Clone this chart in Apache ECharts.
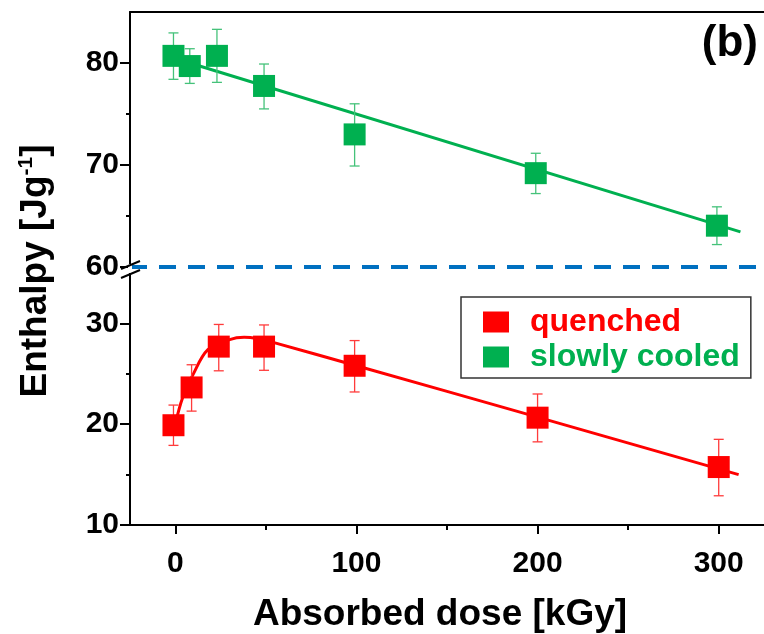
<!DOCTYPE html>
<html>
<head>
<meta charset="utf-8">
<script src="https://cdn.jsdelivr.net/npm/echarts@6/dist/echarts.min.js"></script>
<style>html,body{margin:0;padding:0;background:#fff}#c{width:764px;height:634px}</style>
</head>
<body>
<div id="c"></div>
<script>
// ---- data ----
const slowDose = [-1, 8, 23, 49, 99, 199, 299];
const slowEnthalpy = [80.7, 79.7, 80.7, 77.75, 73.0, 69.2, 64.05];
const slowErrLow = [78.4, 78.0, 78.1, 75.5, 69.9, 67.2, 62.2];
const slowErrHigh = [82.95, 81.4, 83.3, 79.9, 76.0, 71.15, 65.9];

const quenchedDose = [-1, 9, 24, 49, 99, 200, 300];
const quenchedEnthalpy = [19.9, 23.65, 27.7, 27.7, 25.8, 20.65, 15.75];
const quenchedErrLow = [17.9, 21.3, 25.3, 25.35, 23.2, 18.25, 12.9];
const quenchedErrHigh = [21.9, 25.9, 29.9, 29.85, 28.3, 23.0, 18.5];

// fit curves
const slowFitDose = [8, 312];
const slowFitEnthalpy = [80.0, 63.45];
const quenchedFitDose = [0, 4, 10, 18, 30, 38, 45, 55, 100, 200, 311];
const quenchedFitEnthalpy = [20.0, 22.6, 25.0, 27.4, 28.4, 28.62, 28.5, 28.07, 25.8, 20.7, 15.0];

// axes ticks
const xTicks = [0, 100, 200, 300];
const xMinorTicks = [50, 150, 250];
const yTopTicks = [60, 70, 80];
const yTopMinorTicks = [65, 75];
const yBottomTicks = [10, 20, 30];
const yBottomMinorTicks = [15, 25];
const breakValue = 60;

const FONT = "'Liberation Sans', Arial, sans-serif";
const GREEN = '#00b050';
const RED = '#ff0000';

const zip = (a, b) => a.map((v, i) => [v, b[i]]);
const zip3 = (a, b, c) => a.map((v, i) => [v, b[i], c[i]]);

function errRender(color) {
  return function (params, api) {
    const x = api.value(0), lo = api.value(1), hi = api.value(2);
    const p1 = api.coord([x, hi]);
    const p2 = api.coord([x, lo]);
    const w = 5;
    const st = { stroke: color, lineWidth: 1.3 };
    return {
      type: 'group',
      children: [
        { type: 'line', shape: { x1: p1[0], y1: p1[1], x2: p2[0], y2: p2[1] }, style: st },
        { type: 'line', shape: { x1: p1[0] - w, y1: p1[1], x2: p1[0] + w, y2: p1[1] }, style: st },
        { type: 'line', shape: { x1: p2[0] - w, y1: p2[1], x2: p2[0] + w, y2: p2[1] }, style: st }
      ]
    };
  };
}

const axisLineStyle = { color: '#000', width: 2 };
const labelStyle = { color: '#000', fontFamily: FONT, fontWeight: 'bold', fontSize: 30 };

const chart = echarts.init(document.getElementById('c'), null, { renderer: 'canvas' });
const option = {
  animation: false,
  backgroundColor: '#fff',
  grid: [
    { left: 130, right: 0, top: 12, height: 255 },
    { left: 130, right: 0, top: 267, height: 258 }
  ],
  xAxis: [
    { gridIndex: 0, type: 'value', position: 'top', min: -25, max: 325,
      axisLine: { show: true, onZero: false, lineStyle: axisLineStyle }, axisTick: { show: false },
      axisLabel: { show: false }, splitLine: { show: false } },
    { gridIndex: 1, type: 'value', position: 'bottom', min: -25, max: 325,
      axisLine: { show: true, onZero: false, lineStyle: axisLineStyle },
      axisTick: { show: true, length: 9, lineStyle: { width: 2, color: '#000' }, customValues: xTicks },
      axisLabel: { ...labelStyle, margin: 24, customValues: xTicks },
      splitLine: { show: false },
      name: 'Absorbed dose [kGy]', nameLocation: 'middle', nameGap: 71,
      nameTextStyle: { color: '#000', fontFamily: FONT, fontWeight: 'bold', fontSize: 37, padding: [0, 14, 0, 0] } },
    { gridIndex: 1, type: 'value', position: 'bottom', min: -25, max: 325,
      axisLine: { show: false, onZero: false },
      axisTick: { show: true, length: 5, lineStyle: { width: 2, color: '#000' }, customValues: xMinorTicks },
      axisLabel: { show: false }, splitLine: { show: false } }
  ],
  yAxis: [
    { gridIndex: 0, type: 'value', position: 'left', min: 60, max: 85,
      axisLine: { show: true, onZero: false, lineStyle: axisLineStyle },
      axisTick: { show: true, length: 10, lineStyle: { width: 2, color: '#000' }, customValues: yTopTicks },
      axisLabel: { ...labelStyle, margin: 11, customValues: yTopTicks },
      splitLine: { show: false } },
    { gridIndex: 0, type: 'value', position: 'left', min: 60, max: 85,
      axisLine: { show: false, onZero: false },
      axisTick: { show: true, length: 4, lineStyle: { width: 2, color: '#000' }, customValues: yTopMinorTicks },
      axisLabel: { show: false }, splitLine: { show: false } },
    { gridIndex: 1, type: 'value', position: 'left', min: 10, max: 35.6,
      axisLine: { show: true, onZero: false, lineStyle: axisLineStyle },
      axisTick: { show: true, length: 10, lineStyle: { width: 2, color: '#000' }, customValues: yBottomTicks },
      axisLabel: { ...labelStyle, margin: 11, customValues: yBottomTicks },
      splitLine: { show: false } },
    { gridIndex: 1, type: 'value', position: 'left', min: 10, max: 35.6,
      axisLine: { show: false, onZero: false },
      axisTick: { show: true, length: 4, lineStyle: { width: 2, color: '#000' }, customValues: yBottomMinorTicks },
      axisLabel: { show: false }, splitLine: { show: false } }
  ],
  legend: {
    left: 461, top: 297, orient: 'vertical',
    padding: [9, 11, 5, 22], itemGap: 3,
    borderColor: '#333', borderWidth: 1.5, backgroundColor: '#fff',
    itemWidth: 26, itemHeight: 21, icon: 'rect',
    textStyle: { fontFamily: FONT, fontWeight: 'bold', fontSize: 32, padding: [0, 0, 0, 16] },
    data: [
      { name: 'quenched', textStyle: { color: RED } },
      { name: 'slowly cooled', textStyle: { color: GREEN } }
    ]
  },
  series: [
    { name: 'slowFit', type: 'line', xAxisIndex: 0, yAxisIndex: 0, data: zip(slowFitDose, slowFitEnthalpy),
      showSymbol: false, symbol: 'none', lineStyle: { color: GREEN, width: 3 }, z: 2, silent: true,
      markLine: { silent: true, symbol: 'none', label: { show: false },
        lineStyle: { color: '#0070c0', width: 4, type: [17, 12] },
        data: [{ yAxis: breakValue }] } },
    { name: 'quenchedFit', type: 'line', xAxisIndex: 1, yAxisIndex: 2, data: zip(quenchedFitDose, quenchedFitEnthalpy),
      smooth: 0.35, showSymbol: false, symbol: 'none', lineStyle: { color: RED, width: 3 }, z: 2, silent: true },
    { name: 'slowErr', type: 'custom', xAxisIndex: 0, yAxisIndex: 0, renderItem: errRender('#45c27a'),
      encode: { x: 0, y: [1, 2] }, data: zip3(slowDose, slowErrLow, slowErrHigh), z: 3, silent: true },
    { name: 'quenchedErr', type: 'custom', xAxisIndex: 1, yAxisIndex: 2, renderItem: errRender('#ff3b3b'),
      encode: { x: 0, y: [1, 2] }, data: zip3(quenchedDose, quenchedErrLow, quenchedErrHigh), z: 3, silent: true },
    { name: 'slowly cooled', type: 'scatter', xAxisIndex: 0, yAxisIndex: 0, symbol: 'rect', symbolSize: 22,
      itemStyle: { color: GREEN, opacity: 1 }, data: zip(slowDose, slowEnthalpy), z: 4 },
    { name: 'quenched', type: 'scatter', xAxisIndex: 1, yAxisIndex: 2, symbol: 'rect', symbolSize: 22,
      itemStyle: { color: RED, opacity: 1 }, data: zip(quenchedDose, quenchedEnthalpy), z: 4 }
  ]
};
chart.setOption(option);

// decorations: axis break marks, y-axis title, panel label
const bp = chart.convertToPixel({ gridIndex: 0 }, [-25, breakValue]);
const bx = bp[0], by = bp[1];
chart.setOption({
  graphic: [
    { type: 'rect', z: 100, shape: { x: bx - 2, y: by - 3, width: 4, height: 9 }, style: { fill: '#fff' } },
    { type: 'line', z: 101, shape: { x1: bx - 9, y1: by + 2, x2: bx + 10, y2: by - 6 }, style: { stroke: '#000', lineWidth: 2 } },
    { type: 'line', z: 101, shape: { x1: bx - 9, y1: by + 11, x2: bx + 10, y2: by + 3 }, style: { stroke: '#000', lineWidth: 2 } },
    { type: 'text', z: 100, x: 36, y: 271, rotation: Math.PI / 2,
      style: {
        text: '{a|Enthalpy [Jg}{s|-1}{a|]}',
        align: 'center', verticalAlign: 'middle',
        rich: {
          a: { fontFamily: FONT, fontWeight: 'bold', fontSize: 37, fill: '#000', lineHeight: 40 },
          s: { fontFamily: FONT, fontWeight: 'bold', fontSize: 21, fill: '#000', verticalAlign: 'top', lineHeight: 40 }
        }
      } },
    { type: 'text', z: 100, right: 6, top: 22,
      style: { text: '(b)', fontFamily: FONT, fontWeight: 'bold', fontSize: 44, fill: '#000' } }
  ]
});
</script>
</body>
</html>
